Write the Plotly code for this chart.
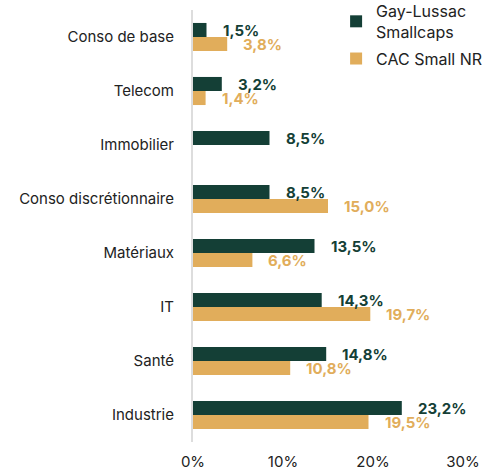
import plotly.graph_objects as go

categories = ["Conso de base", "Telecom", "Immobilier", "Conso discrétionnaire",
              "Matériaux", "IT", "Santé", "Industrie"]
gay_lussac = [1.5, 3.2, 8.5, 8.5, 13.5, 14.3, 14.8, 23.2]
cac_small = [3.8, 1.4, None, 15.0, 6.6, 19.7, 10.8, 19.5]
series_names = ["Gay-Lussac<br>Smallcaps", "CAC Small NR"]
tick_vals = [0, 10, 20, 30]
tick_text = ["0%", "10%", "20%", "30%"]

GREEN = "#143f36"
GOLD = "#e1ad5b"
FONT = "Inter"

fig = go.Figure()
fig.add_trace(go.Bar(y=categories, x=gay_lussac, orientation="h", name=series_names[0],
                     legendgroup="a",
                     marker=dict(color=GREEN, line=dict(width=0))))
fig.add_trace(go.Bar(y=categories, x=cac_small, orientation="h", name=series_names[1],
                     legendgroup="b",
                     marker=dict(color=GOLD, line=dict(width=0))))

def fmt(v):
    return f"{v:.1f}".replace(".", ",") + "%"

annotations = []
for vals, color, dy in [(gay_lussac, GREEN, 7), (cac_small, GOLD, -7)]:
    for c, v in zip(categories, vals):
        if v is None:
            continue
        annotations.append(dict(x=v, y=c, xref="x", yref="y", text=fmt(v), showarrow=False,
                                xanchor="left", yanchor="middle", xshift=14, yshift=dy,
                                font=dict(family=FONT, size=15, color=color, weight="bold")))

fig.update_layout(
    width=495, height=470,
    margin=dict(l=193, r=32, t=10, b=28, autoexpand=False),
    paper_bgcolor="white", plot_bgcolor="white",
    barmode="group", bargap=0.48, bargroupgap=0,
    font=dict(family=FONT, size=15, color="#222222"),
    annotations=annotations,
    legend=dict(x=0.53, y=1.037, xanchor="left", yanchor="top",
                font=dict(family=FONT, size=16, color="#222222"),
                bgcolor="rgba(0,0,0,0)", tracegroupgap=3),
    showlegend=True,
)
fig.update_xaxes(range=[0, 30], tickvals=tick_vals, ticktext=tick_text, showgrid=False,
                 zeroline=False, showline=False, ticks="outside", ticklen=6,
                 tickcolor="rgba(0,0,0,0)", tickfont=dict(size=15, color="#222222"),
                 automargin=False)
fig.update_yaxes(autorange="reversed", showgrid=False, zeroline=False,
                 showline=True, linecolor="#dddddd", linewidth=2,
                 ticks="", ticklabelstandoff=14, tickfont=dict(size=15, color="#222222"),
                 automargin=False)

fig.write_html("out.html")
